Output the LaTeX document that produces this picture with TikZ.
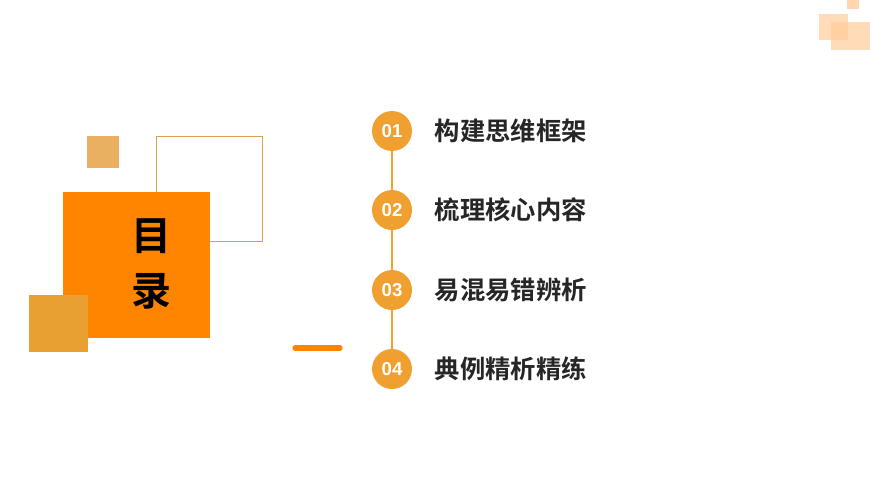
\documentclass[tikz,border=0pt]{standalone}
\usepackage{fontspec}
\newfontfamily\cjk{Noto Sans CJK SC}[BoldFont={Noto Sans CJK SC Bold}]
\setmainfont{Liberation Sans}
\definecolor{org}{HTML}{FF8400}
\definecolor{gold}{HTML}{E8A030}
\definecolor{goldl}{HTML}{E8B060}
\definecolor{line}{HTML}{D8A050}
\definecolor{circ}{HTML}{F0A030}
\definecolor{pale}{HTML}{FFCC99}
\begin{document}
\begin{tikzpicture}[x=0.75pt,y=-0.75pt,
  num/.style={circle,fill=circ,minimum size=30pt,inner sep=0pt,text=white,font=\bfseries\fontsize{14}{14}\selectfont},
  item/.style={anchor=west,font=\cjk\bfseries\fontsize{19}{19}\selectfont,text=black!85}]
\useasboundingbox (0,0) rectangle (870,489);
% top right
\fill[pale,opacity=0.8] (847,0) rectangle (859,9);
\fill[pale,opacity=0.7] (819,14) rectangle (848,40);
\fill[pale,opacity=0.7] (831,22) rectangle (870,50);
% left decor
\fill[goldl] (87,136) rectangle (119,168);
\draw[line,line width=0.6pt] (156,136) rectangle (262,241);
\fill[org] (63,192) rectangle (210,338);
\fill[gold] (29,295) rectangle (88,352);
\node (t1) at (151,236) {\cjk\bfseries\fontsize{30}{30}\selectfont 目};
\node (t2) at (151,291) {\cjk\bfseries\fontsize{30}{30}\selectfont 录};
\draw[org,line width=4pt,line cap=round] (295,348) -- (340,348);
% list
\node[num] (c1) at (392,131) {01};
\node[num] (c2) at (392,210) {02};
\node[num] (c3) at (392,290) {03};
\node[num] (c4) at (392,369) {04};
\draw[circ,line width=1pt] (c1) -- (c2) (c2) -- (c3) (c3) -- (c4);
\node[item] (l1) at (430,131) {构建思维框架};
\node[item] (l2) at (430,210) {梳理核心内容};
\node[item] (l3) at (430,290) {易混易错辨析};
\node[item] (l4) at (430,369) {典例精析精练};
\end{tikzpicture}
\end{document}
